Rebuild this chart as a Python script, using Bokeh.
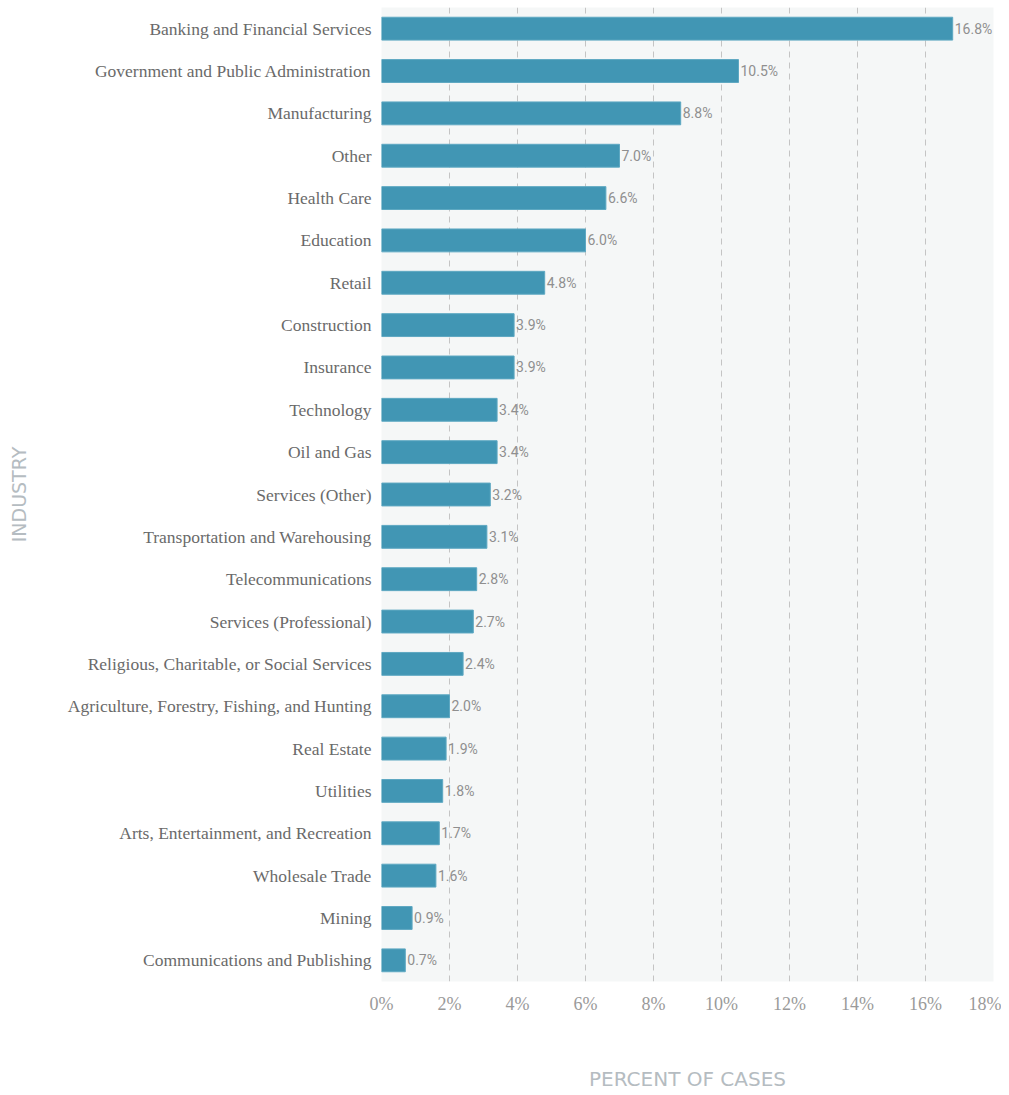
from bokeh.plotting import figure
from bokeh.models import ColumnDataSource, NumeralTickFormatter
from bokeh.core.properties import value
from bokeh.embed import file_html
from bokeh.resources import INLINE

industries = [
    "Banking and Financial Services",
    "Government and Public Administration",
    "Manufacturing",
    "Other",
    "Health Care",
    "Education",
    "Retail",
    "Construction",
    "Insurance",
    "Technology",
    "Oil and Gas",
    "Services (Other)",
    "Transportation and Warehousing",
    "Telecommunications",
    "Services (Professional)",
    "Religious, Charitable, or Social Services",
    "Agriculture, Forestry, Fishing, and Hunting",
    "Real Estate",
    "Utilities",
    "Arts, Entertainment, and Recreation",
    "Wholesale Trade",
    "Mining",
    "Communications and Publishing",
]
percents = [16.8, 10.5, 8.8, 7.0, 6.6, 6.0, 4.8, 3.9, 3.9, 3.4, 3.4, 3.2, 3.1,
            2.8, 2.7, 2.4, 2.0, 1.9, 1.8, 1.7, 1.6, 0.9, 0.7]
tick_values = [0, 2, 4, 6, 8, 10, 12, 14, 16, 18]

labels = ["%.1f%%" % v for v in percents]
src = ColumnDataSource(dict(ind=industries, pct=percents, lab=labels))

p = figure(
    width=1001, height=1093,
    y_range=list(reversed(industries)),
    x_range=(0, 18),
    output_backend="svg", toolbar_location=None,
    min_border_left=381, min_border_right=8, min_border_top=7, min_border_bottom=104,
)
p.y_range.range_padding = 0
p.background_fill_color = "#f5f7f7"
p.border_fill_color = "white"
p.outline_line_color = None

p.hbar(y="ind", right="pct", left=0, height=0.54, source=src,
       fill_color="#4196b4", line_color="#5ea8c2", line_width=1)

p.text(x="pct", y="ind", text="lab", source=src, x_offset=2,
       text_font=value("Roboto"), text_font_size="14px",
       text_color="#8f8f8f", text_align="left", text_baseline="middle")

p.xaxis.ticker = tick_values
p.xaxis.formatter = NumeralTickFormatter(format="0")
p.xaxis.major_label_overrides = {v: "%d%%" % v for v in tick_values}
p.xaxis.major_label_text_font = "Liberation Serif"
p.xaxis.major_label_text_font_size = "18px"
p.xaxis.major_label_text_color = "#9a9a9a"
p.xaxis.major_label_standoff = 6
p.xaxis.axis_line_color = None
p.xaxis.major_tick_line_color = None
p.xaxis.minor_tick_line_color = None
p.xaxis.axis_label = "PERCENT OF CASES"
p.xaxis.axis_label_text_font = "DejaVu Sans"
p.xaxis.axis_label_text_font_style = "normal"
p.xaxis.axis_label_text_font_size = "20px"
p.xaxis.axis_label_text_color = "#b5bcc1"
p.xaxis.axis_label_standoff = 50

p.yaxis.major_label_text_font = "Liberation Serif"
p.yaxis.major_label_text_font_size = "17.5px"
p.yaxis.major_label_text_color = "#6a6a6a"
p.yaxis.major_label_standoff = 4
p.yaxis.axis_line_color = None
p.yaxis.major_tick_line_color = None
p.yaxis.minor_tick_line_color = None
p.yaxis.axis_label = "INDUSTRY"
p.yaxis.axis_label_text_font = "DejaVu Sans"
p.yaxis.axis_label_text_font_style = "normal"
p.yaxis.axis_label_text_font_size = "19px"
p.yaxis.axis_label_text_color = "#b5bcc1"
p.yaxis.axis_label_standoff = 35

p.ygrid.grid_line_color = None
p.xgrid.grid_line_color = "#c4c4c4"
p.xgrid.grid_line_dash = "6 5"
p.xgrid.grid_line_width = 1

open("out.html", "w").write(file_html(p, INLINE))
